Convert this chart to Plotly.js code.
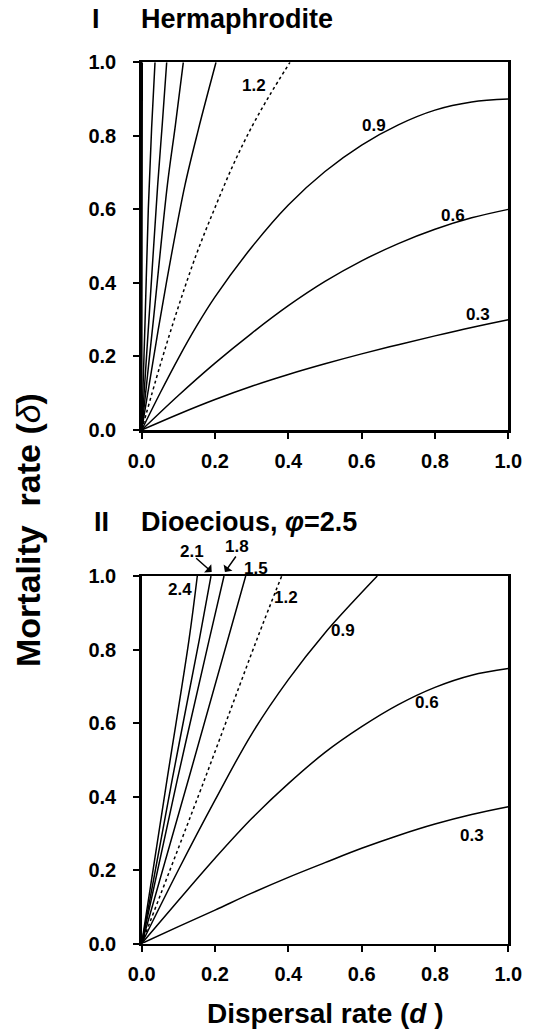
<!DOCTYPE html>
<html>
<head>
<meta charset="utf-8">
<script src="https://cdn.plot.ly/plotly-3.0.1.min.js"></script>
<style>html,body{margin:0;padding:0;background:#fff;}#chart{width:533px;height:1032px;}</style>
</head>
<body>
<div id="chart"></div>
<script>
// ---------- data ----------
// Panel I : Hermaphrodite  (d = dispersal rate, delta = mortality rate)
const curveLabels = ['0.3', '0.6', '0.9', '1.2', '1.5', '1.8', '2.1', '2.4'];
const dGrid = [0, 0.1, 0.2, 0.3, 0.4, 0.5, 0.6, 0.7, 0.8, 0.9, 1.0];

const herm03_d = dGrid;
const herm03_y = [0, 0.043, 0.083, 0.119, 0.151, 0.180, 0.207, 0.232, 0.256, 0.279, 0.300];
const herm06_d = dGrid;
const herm06_y = [0, 0.094, 0.182, 0.263, 0.338, 0.404, 0.460, 0.507, 0.546, 0.577, 0.600];
const herm09_d = [0, 0.05, 0.1, 0.15, 0.2, 0.3, 0.4, 0.5, 0.6, 0.7, 0.8, 0.9, 1.0];
const herm09_y = [0, 0.10, 0.195, 0.283, 0.362, 0.497, 0.612, 0.703, 0.775, 0.830, 0.870, 0.892, 0.900];
const herm12_d = [0, 0.05, 0.1, 0.15, 0.2, 0.25, 0.3, 0.35, 0.4045];
const herm12_y = [0, 0.175, 0.335, 0.48, 0.605, 0.722, 0.824, 0.912, 1.0];
const herm15_d = [0, 0.045, 0.08, 0.118, 0.154, 0.18, 0.2027];
const herm15_y = [0, 0.272, 0.47, 0.666, 0.815, 0.915, 1.0];
const herm18_d = [0, 0.032, 0.070, 0.092, 0.1135];
const herm18_y = [0, 0.30, 0.666, 0.83, 1.0];
const herm21_d = [0, 0.021, 0.0436, 0.056, 0.0682];
const herm21_y = [0, 0.32, 0.666, 0.83, 1.0];
const herm24_d = [0, 0.009, 0.018, 0.027, 0.0363];
const herm24_y = [0, 0.29, 0.60, 0.82, 1.0];
const hermEdge_d = [0, 0.0008, 0.0016];
const hermEdge_y = [0, 0.5, 1.0];

// Panel II : Dioecious, phi = 2.5
const dioe03_d = dGrid;
const dioe03_y = [0, 0.046, 0.091, 0.137, 0.180, 0.220, 0.259, 0.294, 0.325, 0.351, 0.372];
const dioe06_d = dGrid;
const dioe06_y = [0, 0.117, 0.232, 0.34, 0.435, 0.52, 0.590, 0.650, 0.697, 0.730, 0.748];
const dioe09_d = [0, 0.1, 0.2, 0.3, 0.4, 0.5, 0.6, 0.6427];
const dioe09_y = [0, 0.20, 0.39, 0.570, 0.718, 0.845, 0.955, 1.0];
const dioe12_d = [0, 0.171, 0.3137, 0.3819];
const dioe12_y = [0, 0.445, 0.826, 1.0];
const dioe15_d = [0, 0.13, 0.2837];
const dioe15_y = [0, 0.455, 1.0];
const dioe18_d = [0, 0.097, 0.184, 0.2245];
const dioe18_y = [0, 0.445, 0.826, 1.0];
const dioe21_d = [0, 0.083, 0.157, 0.189];
const dioe21_y = [0, 0.445, 0.826, 1.0];
const dioe24_d = [0, 0.069, 0.129, 0.1517];
const dioe24_y = [0, 0.445, 0.826, 1.0];

const tickVals = [0, 0.2, 0.4, 0.6, 0.8, 1.0];
const tickText = ['0.0', '0.2', '0.4', '0.6', '0.8', '1.0'];

// ---------- drawing ----------
const FAM = 'Liberation Sans, Arial, sans-serif';
function line(xs, ys, xa, ya, dash) {
  return {x: xs, y: ys, xaxis: xa, yaxis: ya, type: 'scatter', mode: 'lines',
          line: {color: '#000', width: 1.5, dash: dash || 'solid', shape: 'spline', smoothing: 1.0},
          hoverinfo: 'skip', showlegend: false};
}
const traces = [
  line(herm03_d, herm03_y, 'x', 'y'), line(herm06_d, herm06_y, 'x', 'y'),
  line(herm09_d, herm09_y, 'x', 'y'), line(herm12_d, herm12_y, 'x', 'y', 'dot'),
  line(herm15_d, herm15_y, 'x', 'y'), line(herm18_d, herm18_y, 'x', 'y'),
  line(herm21_d, herm21_y, 'x', 'y'), line(herm24_d, herm24_y, 'x', 'y'),
  line(hermEdge_d, hermEdge_y, 'x', 'y'),
  line(dioe03_d, dioe03_y, 'x2', 'y2'), line(dioe06_d, dioe06_y, 'x2', 'y2'),
  line(dioe09_d, dioe09_y, 'x2', 'y2'), line(dioe12_d, dioe12_y, 'x2', 'y2', 'dot'),
  line(dioe15_d, dioe15_y, 'x2', 'y2'), line(dioe18_d, dioe18_y, 'x2', 'y2'),
  line(dioe21_d, dioe21_y, 'x2', 'y2'), line(dioe24_d, dioe24_y, 'x2', 'y2')
];

const W = 533, H = 1032;
const xDom = [141.7 / W, 508.3 / W];
const yDomTop = [1 - 430 / H, 1 - 62.3 / H];
const yDomBot = [1 - 943.5 / H, 1 - 576 / H];

// convert a data position of a panel to paper coordinates (for labels drawn above the frame)
function px(d) { return xDom[0] + d * (xDom[1] - xDom[0]); }
function pyTop(v) { return yDomTop[0] + v * (yDomTop[1] - yDomTop[0]); }
function pyBot(v) { return yDomBot[0] + v * (yDomBot[1] - yDomBot[0]); }

function axis(extra) {
  return Object.assign({
    range: [0, 1], tickvals: tickVals, ticktext: tickText,
    ticks: 'outside', ticklen: 6, tickwidth: 2, tickcolor: '#000',
    showline: true, linecolor: '#000', linewidth: 2.5, mirror: true,
    showgrid: false, zeroline: false, fixedrange: true,
    tickfont: {family: FAM, size: 20, color: '#000', weight: 'bold'}
  }, extra);
}

const lblFont = {family: FAM, size: 17, color: '#000', weight: 'bold'};
function lbl(text, x, y) {
  return {text: text, x: x, y: y, xref: 'paper', yref: 'paper', showarrow: false,
          font: lblFont, xanchor: 'center', yanchor: 'middle'};
}
function arrow(x, y, axPx, ayPx) {
  return {text: '', x: x, y: y, ax: axPx, ay: ayPx, xref: 'paper', yref: 'paper',
          showarrow: true, arrowhead: 1, arrowsize: 1.2, arrowwidth: 1.5, arrowcolor: '#000'};
}
const titleFont = {family: FAM, size: 27, color: '#000', weight: 'bold'};
const axTitleFont = {family: FAM, size: 28, color: '#000', weight: 'bold'};
const yTitleFont = {family: FAM, size: 34, color: '#000', weight: 'bold'};

const annotations = [
  lbl(curveLabels[3], px(0.306), pyTop(0.936)),
  lbl(curveLabels[2], px(0.635), pyTop(0.828)),
  lbl(curveLabels[1], px(0.85), pyTop(0.584)),
  lbl(curveLabels[0], px(0.916), pyTop(0.313)),
  lbl(curveLabels[6], px(0.136), pyBot(1.066)),
  lbl(curveLabels[5], px(0.259), pyBot(1.080)),
  lbl(curveLabels[4], px(0.311), pyBot(1.021)),
  lbl(curveLabels[7], px(0.1045), pyBot(0.962)),
  lbl(curveLabels[3], px(0.393), pyBot(0.9415)),
  lbl(curveLabels[2], px(0.548), pyBot(0.853)),
  lbl(curveLabels[1], px(0.778), pyBot(0.656)),
  lbl(curveLabels[0], px(0.90), pyBot(0.295)),
  arrow(px(0.191), pyBot(1.011), -17, -15),
  arrow(px(0.227), pyBot(1.011), 12, -17),
  // panel titles
  {text: 'I', x: 96 / W, y: 1 - 19 / H, xref: 'paper', yref: 'paper', showarrow: false,
   font: titleFont, xanchor: 'center', yanchor: 'middle'},
  {text: 'Hermaphrodite', x: 139 / W, y: 1 - 19 / H, xref: 'paper', yref: 'paper', showarrow: false,
   font: titleFont, xanchor: 'left', yanchor: 'middle'},
  {text: 'II', x: 101 / W, y: 1 - 522 / H, xref: 'paper', yref: 'paper', showarrow: false,
   font: titleFont, xanchor: 'center', yanchor: 'middle'},
  {text: 'Dioecious, <i>φ</i>=2.5', x: 139 / W, y: 1 - 522 / H, xref: 'paper', yref: 'paper', showarrow: false,
   font: titleFont, xanchor: 'left', yanchor: 'middle'},
  // axis titles
  {text: 'Dispersal rate (<i>d</i> )', x: 325 / W, y: 1 - 1013 / H, xref: 'paper', yref: 'paper', showarrow: false,
   font: axTitleFont, xanchor: 'center', yanchor: 'middle'},
  {text: 'Mortality  rate (<span style="font-weight:normal"><i>δ</i></span>)', x: 28 / W, y: 1 - 530 / H, xref: 'paper', yref: 'paper', showarrow: false,
   font: yTitleFont, xanchor: 'center', yanchor: 'middle', textangle: -90}
];

const layout = {
  width: W, height: H, margin: {l: 0, r: 0, t: 0, b: 0},
  paper_bgcolor: '#fff', plot_bgcolor: '#fff', showlegend: false,
  xaxis: axis({domain: xDom, anchor: 'y', ticklabelstandoff: 5}),
  yaxis: axis({domain: yDomTop, anchor: 'x', ticklabelstandoff: 13}),
  xaxis2: axis({domain: xDom, anchor: 'y2', ticklabelstandoff: 5}),
  yaxis2: axis({domain: yDomBot, anchor: 'x2', ticklabelstandoff: 13}),
  annotations: annotations
};

Plotly.newPlot('chart', traces, layout, {displayModeBar: false, staticPlot: true});
</script>
</body>
</html>
